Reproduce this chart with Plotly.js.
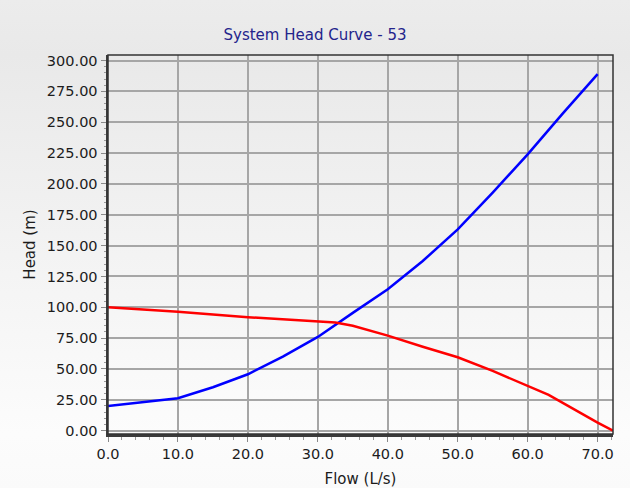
<!DOCTYPE html>
<html>
<head>
<meta charset="utf-8">
<script src="https://cdn.plot.ly/plotly-3.0.1.min.js"></script>
<style>
  html, body { margin: 0; padding: 0; }
  #chart {
    width: 630px; height: 488px;
    background: linear-gradient(to bottom, #ececec 0px, #e9e9e9 55px, #fcfcfc 434px, #fafafa 488px);
  }
</style>
</head>
<body>
<div id="chart"></div>
<script>
// System curve
const systemFlow = [0, 5, 10, 15, 20, 25, 30, 35, 40, 45, 50, 55, 60, 65, 70];
const systemHead = [20.0, 23.0, 26.3, 35.2, 45.7, 60.0, 76.0, 95.5, 114.6, 137.5, 163.2, 193.0, 224.0, 257.0, 289.0];
// Pump curve
const pumpFlow = [0, 10, 20, 30, 32.5, 35, 40, 45, 50, 55, 60, 63, 70, 72.2];
const pumpHead = [100.0, 96.4, 92.0, 88.2, 87.6, 85.0, 77.0, 68.0, 59.5, 48.4, 36.5, 29.0, 6.5, 0.0];

const titleText = 'System Head Curve - 53';
const xTitle = 'Flow (L/s)';
const yTitle = 'Head (m)';

const font = 'DejaVu Sans, Verdana, sans-serif';
const textColor = '#1c1c1c';

const traces = [
  { x: systemFlow, y: systemHead, type: 'scatter', mode: 'lines',
    line: { color: '#0000ff', width: 2.5 }, name: 'System', hoverinfo: 'skip' },
  { x: pumpFlow, y: pumpHead, type: 'scatter', mode: 'lines',
    line: { color: '#ff0000', width: 2.5 }, name: 'Pump', hoverinfo: 'skip' }
];

const layout = {
  width: 630, height: 488,
  margin: { l: 108, r: 17, t: 55, b: 54 },
  paper_bgcolor: 'rgba(0,0,0,0)',
  plot_bgcolor: 'rgba(0,0,0,0)',
  showlegend: false,
  font: { family: font, size: 14.5, color: textColor },
  title: { text: titleText, font: { family: font, size: 15, color: '#24248c' },
           x: 0.5, xanchor: 'center', y: 1 - 35/488, yanchor: 'middle' },
  xaxis: {
    range: [0, 72.2], dtick: 10, tick0: 0, tickformat: '.1f',
    showgrid: true, gridcolor: '#a6a6a6', gridwidth: 2, zeroline: false,
    showline: true, linecolor: '#3a3a3a', linewidth: 2.5,
    ticks: 'outside', ticklen: 5, tickcolor: '#8a8a8a', tickwidth: 1,
    minor: { dtick: 2, ticks: 'outside', ticklen: 3, tickcolor: '#9a9a9a', showgrid: false },
    title: { text: xTitle, font: { family: font, size: 15, color: textColor }, standoff: 13 },
    tickfont: { family: font, size: 14.5, color: textColor }
  },
  yaxis: {
    range: [-2.7, 304.5], dtick: 25, tick0: 0, tickformat: '.2f',
    showgrid: true, gridcolor: '#a6a6a6', gridwidth: 2, zeroline: false,
    showline: true, linecolor: '#3a3a3a', linewidth: 2.5,
    ticks: 'outside', ticklen: 5, tickcolor: '#8a8a8a', tickwidth: 1,
    minor: { dtick: 5, ticks: 'outside', ticklen: 2, tickcolor: '#9a9a9a', showgrid: false },
    title: { text: yTitle, font: { family: font, size: 15, color: textColor }, standoff: 8 },
    tickfont: { family: font, size: 14.5, color: textColor }
  },
  shapes: [
    { type: 'rect', xref: 'paper', yref: 'paper', x0: 0, x1: 1, y0: 0, y1: 1,
      line: { color: '#333333', width: 1.5 }, fillcolor: 'rgba(0,0,0,0)', layer: 'above' }
  ]
};

Plotly.newPlot('chart', traces, layout, { staticPlot: true, displayModeBar: false });
</script>
</body>
</html>
